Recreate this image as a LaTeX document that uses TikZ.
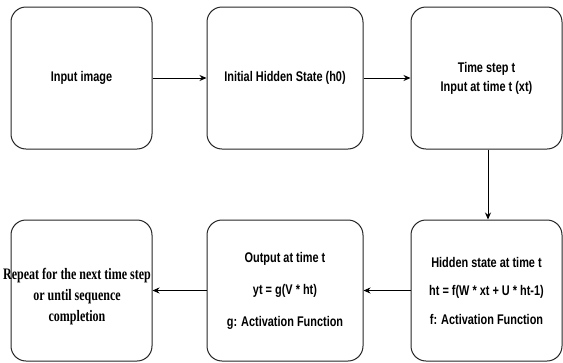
\documentclass[tikz,border=0pt]{standalone}
\usepackage{fontspec}
\usetikzlibrary{arrows.meta}
\newfontfamily\arialn{Liberation Sans}[FakeStretch=0.78]
\newfontfamily\timesn{Liberation Serif}[FakeStretch=0.75]
\begin{document}
\begin{tikzpicture}[x=1pt,y=-1pt,
  box/.style={draw=black!85, line width=1pt, rounded corners=15pt, fill=white,
    minimum height=142pt, inner sep=0pt, align=center,
    font=\arialn\bfseries\fontsize{14}{19}\selectfont},
  conn/.style={line width=1pt, -{Stealth[length=7pt,width=6pt]}},
  lbl/.style={align=center, inner sep=0pt}]
\useasboundingbox (0,0) rectangle (563,362);
\fill[white] (0,0) rectangle (563,362);
% top row
\node[box, minimum width=141pt] (b1) at (81.5,78) {Input image};
\node[box, minimum width=156pt] (b2) at (285,78) {Initial Hidden State (h0)};
\node[box, minimum width=151pt] (b3) at (486.5,78) {Time step t\\Input at time t (xt)};
% bottom row
\node[box, minimum width=141pt, minimum height=141pt] (b4) at (81.5,290.5) {};
\node[lbl, font=\timesn\bfseries\fontsize{16}{21}\selectfont] (t4) at (77,297)
  {Repeat for the next time step\\or until sequence\\completion};
\node[box, minimum width=156pt, minimum height=141pt] (b5) at (285,290.5)
  {Output at time t\\[13pt]yt = g(V * ht)\\[13pt]g: Activation Function};
\node[box, minimum width=151pt, minimum height=141pt] (b6) at (486.5,290.5)
  {Hidden state at time t\\[9.5pt]ht = f(W * xt + U * ht-1)\\[9.5pt]f: Activation Function};
% connectors
\draw[conn] (b1.east) -- (b2.west);
\draw[conn] (b2.east) -- (b3.west);
\draw[conn] ([xshift=1.5pt]b3.south) -- ([xshift=1.5pt]b6.north);
\draw[conn] (b6.west) -- (b5.east);
\draw[conn] (b5.west) -- (b4.east);
\end{tikzpicture}
\end{document}
